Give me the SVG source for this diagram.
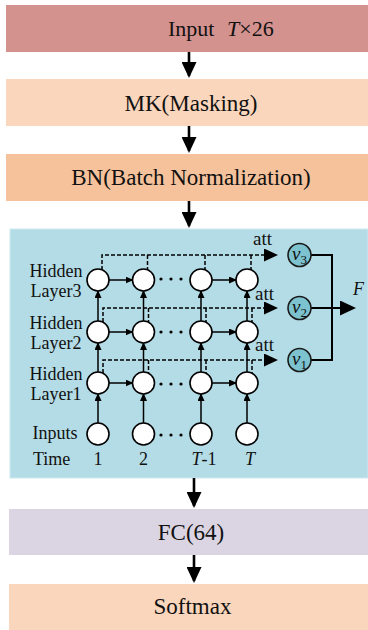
<svg xmlns="http://www.w3.org/2000/svg" width="368" height="630" viewBox="0 0 368 630">
<defs>
<style>
text { font-family: "Liberation Serif", "Times New Roman", serif; fill: #111; }
.bt { font-size: 23px; text-anchor: middle; }
.lab { font-size: 18px; text-anchor: middle; }
.it { font-style: italic; }
.flow { stroke: #000; stroke-width: 2.6; fill: none; }
.node { fill: #fff; stroke: #000; stroke-width: 1.6; }
.vnode { fill: #7cc3cf; stroke: #1a1a1a; stroke-width: 1.6; }
.sl { stroke: #000; stroke-width: 1.5; fill: none; }
.rl { stroke: #000; stroke-width: 2; fill: none; }
.dl { stroke: #000; stroke-width: 1.5; stroke-dasharray: 4 2; fill: none; }
.vt { font-size: 19px; }
.sub { font-size: 13px; }
</style>
<marker id="big" viewBox="0 0 16 15" refX="14" refY="7.5" markerWidth="16" markerHeight="15" markerUnits="userSpaceOnUse" orient="auto">
<path d="M0,0 L16,7.5 L0,15 z" fill="#000"/>
</marker>
<marker id="mid" viewBox="0 0 14 13" refX="12" refY="6.5" markerWidth="14" markerHeight="13" markerUnits="userSpaceOnUse" orient="auto">
<path d="M0,0 L14,6.5 L0,13 z" fill="#000"/>
</marker>
<marker id="sm" viewBox="0 0 8 7" refX="7" refY="3.5" markerWidth="8" markerHeight="7" markerUnits="userSpaceOnUse" orient="auto">
<path d="M0,0 L8,3.5 L0,7 z" fill="#000"/>
</marker>
</defs>

<g id="input-box">
<rect x="6" y="5" width="362" height="47" fill="#d4928f"/>
<text x="168" y="36" font-size="22px">Input</text>
<text x="227" y="36" font-size="22px"><tspan class="it">T</tspan>×26</text>
</g>
<g id="mk-box">
<rect x="6" y="79" width="362" height="47" fill="#f9d6bc"/>
<text x="191" y="111" class="bt">MK(Masking)</text>
</g>
<g id="bn-box">
<rect x="6" y="154" width="362" height="47" fill="#f6c29b"/>
<text x="191" y="185" class="bt">BN(Batch Normalization)</text>
</g>
<g id="lstm-panel">
<rect x="10" y="229" width="358" height="249" fill="#b4dce6" stroke="#cfe9f0" stroke-width="1"/>
<text x="56" y="277" class="lab">Hidden</text>
<text x="56" y="297" class="lab">Layer3</text>
<text x="56" y="329" class="lab">Hidden</text>
<text x="56" y="349" class="lab">Layer2</text>
<text x="56" y="380" class="lab">Hidden</text>
<text x="56" y="400" class="lab">Layer1</text>
<text x="55" y="439" class="lab">Inputs</text>
<text x="33" y="465" font-size="18px">Time</text>
<text x="98" y="465" class="lab">1</text>
<text x="143.5" y="465" class="lab">2</text>
<text x="204" y="465" class="lab"><tspan class="it">T</tspan>-1</text>
<text x="250" y="465" class="lab it">T</text>
<g fill="#000">
<circle cx="161" cy="279" r="1.6"/><circle cx="171" cy="279" r="1.6"/><circle cx="181" cy="279" r="1.6"/>
<circle cx="161" cy="332" r="1.6"/><circle cx="171" cy="332" r="1.6"/><circle cx="181" cy="332" r="1.6"/>
<circle cx="161" cy="384" r="1.6"/><circle cx="171" cy="384" r="1.6"/><circle cx="181" cy="384" r="1.6"/>
<circle cx="161" cy="435" r="1.6"/><circle cx="171" cy="435" r="1.6"/><circle cx="181" cy="435" r="1.6"/>
</g>
</g>
<g id="fc-box">
<rect x="9" y="509" width="359" height="46" fill="#dbd5e3"/>
<text x="191" y="540" class="bt">FC(64)</text>
</g>
<g id="softmax-box">
<rect x="9" y="584" width="359" height="46" fill="#f9d6bc"/>
<text x="192.5" y="614" class="bt">Softmax</text>
</g>

<g id="connectors">
<path class="flow" d="M189 52 V76" marker-end="url(#big)"/>
<path class="flow" d="M189 126 V151" marker-end="url(#big)"/>
<path class="flow" d="M189 201 V226" marker-end="url(#big)"/>
<path class="flow" d="M194 478 V506" marker-end="url(#big)"/>
<path class="flow" d="M194 555 V581" marker-end="url(#big)"/>

<g id="recurrent">
<path class="sl" d="M109 280 H132.5" marker-end="url(#sm)"/>
<path class="sl" d="M212 280 H236" marker-end="url(#sm)"/>
<path class="sl" d="M109 332 H132.5" marker-end="url(#sm)"/>
<path class="sl" d="M212 332 H236" marker-end="url(#sm)"/>
<path class="sl" d="M109 383 H132.5" marker-end="url(#sm)"/>
<path class="sl" d="M212 383 H236" marker-end="url(#sm)"/>
</g>
<g id="vertical">
<path class="sl" d="M98 423 V394" marker-end="url(#sm)"/>
<path class="sl" d="M143.5 423 V394" marker-end="url(#sm)"/>
<path class="sl" d="M201 423 V394" marker-end="url(#sm)"/>
<path class="sl" d="M247 423 V394" marker-end="url(#sm)"/>
<path class="sl" d="M98 372 V343" marker-end="url(#sm)"/>
<path class="sl" d="M143.5 372 V343" marker-end="url(#sm)"/>
<path class="sl" d="M201 372 V343" marker-end="url(#sm)"/>
<path class="sl" d="M247 372 V343" marker-end="url(#sm)"/>
<path class="sl" d="M98 321 V291" marker-end="url(#sm)"/>
<path class="sl" d="M143.5 321 V291" marker-end="url(#sm)"/>
<path class="sl" d="M201 321 V291" marker-end="url(#sm)"/>
<path class="sl" d="M247 321 V291" marker-end="url(#sm)"/>
</g>
<g id="attention">
<path class="dl" d="M102 270 V255 H276" marker-end="url(#mid)"/>
<path class="dl" d="M147.5 255 V270 M205 255 V270 M251 255 V270"/>
<path class="dl" d="M103 322 V308 H276" marker-end="url(#mid)"/>
<path class="dl" d="M148.5 308 V322 M206 308 V322 M252 308 V322"/>
<path class="dl" d="M103 373 V360 H276" marker-end="url(#mid)"/>
<path class="dl" d="M148.5 360 V373 M206 360 V373 M252 360 V373"/>
<text x="253" y="245" font-size="19px">att</text>
<text x="255" y="300" font-size="19px">att</text>
<text x="255" y="351" font-size="19px">att</text>
</g>
<g id="merge">
<path class="rl" d="M311 255 H332 V360 H311"/>
<path class="rl" d="M311 308 H354" marker-end="url(#big)"/>
<text x="353" y="295" font-size="18px" class="it">F</text>
</g>
</g>

<g id="cells">
<circle class="node" cx="98" cy="280" r="11"/><circle class="node" cx="143.5" cy="280" r="11"/><circle class="node" cx="201" cy="280" r="11"/><circle class="node" cx="247" cy="280" r="11"/>
<circle class="node" cx="98" cy="332" r="11"/><circle class="node" cx="143.5" cy="332" r="11"/><circle class="node" cx="201" cy="332" r="11"/><circle class="node" cx="247" cy="332" r="11"/>
<circle class="node" cx="98" cy="383" r="11"/><circle class="node" cx="143.5" cy="383" r="11"/><circle class="node" cx="201" cy="383" r="11"/><circle class="node" cx="247" cy="383" r="11"/>
<circle class="node" cx="98" cy="434" r="11"/><circle class="node" cx="143.5" cy="434" r="11"/><circle class="node" cx="201" cy="434" r="11"/><circle class="node" cx="247" cy="434" r="11"/>
</g>
<g id="v3">
<circle class="vnode" cx="299.5" cy="255" r="11.5"/>
<text x="292" y="260" class="vt"><tspan class="it">v</tspan><tspan class="sub" dy="4">3</tspan></text>
</g>
<g id="v2">
<circle class="vnode" cx="299.5" cy="308" r="11.5"/>
<text x="292" y="313" class="vt"><tspan class="it">v</tspan><tspan class="sub" dy="4">2</tspan></text>
</g>
<g id="v1">
<circle class="vnode" cx="299.5" cy="360" r="11.5"/>
<text x="292" y="365" class="vt"><tspan class="it">v</tspan><tspan class="sub" dy="4">1</tspan></text>
</g>
</svg>
